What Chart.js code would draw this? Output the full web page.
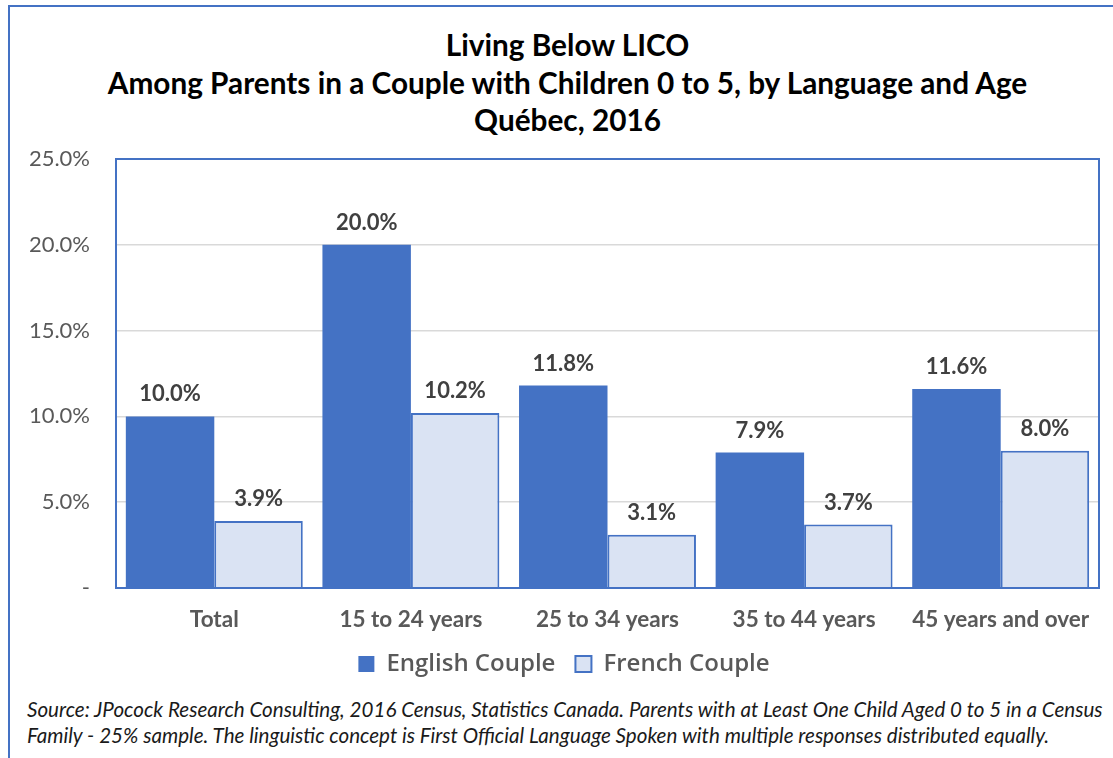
<!DOCTYPE html>
<html>
<head>
<meta charset="utf-8">
<script src="https://cdn.jsdelivr.net/npm/chart.js@4.4.0/dist/chart.umd.min.js"></script>
<style>
  body { margin: 0; background: #fff; overflow: hidden; }
  #frame { position: absolute; left: 8px; top: 5px; width: 1200px; height: 800px;
           border-left: 2px solid #4472C4; border-top: 2px solid #4472C4; }
  #title { position: absolute; left: 8px; top: 26px; width: 1119px; text-align: center;
           font-family: Lato, sans-serif; font-weight: bold; font-size: 29.75px; line-height: 37.5px; color: #000; }
  #wrap { position: absolute; left: 0; top: 0; width: 1113px; height: 686px; }
  #source { position: absolute; left: 27px; top: 696px; font-family: Lato, sans-serif;
            font-style: italic; font-size: 20.6px; line-height: 26px; color: #1a1a1a; white-space: nowrap; }
</style>
</head>
<body>
<div id="frame"></div>
<div id="title">Living Below LICO<br>Among Parents in a Couple with Children 0 to 5, by Language and Age<br>Québec, 2016</div>
<div id="wrap"><canvas id="licoChart"></canvas></div>
<div id="source">Source: JPocock Research Consulting, 2016 Census, Statistics Canada. Parents with at Least One Child Aged 0 to 5 in a Census<br>Family - 25% sample. The linguistic concept is First Official Language Spoken with multiple responses distributed equally.</div>
<script>
// Datos
const categorias = ['Total', '15 to 24 years', '25 to 34 years', '35 to 44 years', '45 years and over'];
const englishCouple = [10.0, 20.0, 11.8, 7.9, 11.6];
const frenchCouple = [3.9, 10.2, 3.1, 3.7, 8.0];
const yTicks = [0, 5, 10, 15, 20, 25];

// Borde del área de trazado
const plotBorder = {
    id: 'plotBorder',
    afterDatasetsDraw(chart) {
        const { ctx, chartArea: a } = chart;
        ctx.save();
        ctx.strokeStyle = '#4472C4';
        ctx.lineWidth = 2;
        ctx.strokeRect(a.left, a.top, a.right - a.left, a.bottom - a.top);
        ctx.restore();
    }
};

// Etiquetas de datos encima de cada barra
const dataLabels = {
    id: 'dataLabels',
    afterDatasetsDraw(chart) {
        const ctx = chart.ctx;
        ctx.save();
        ctx.font = 'bold 22px Lato, sans-serif';
        ctx.fillStyle = '#404040';
        ctx.textAlign = 'center';
        ctx.textBaseline = 'middle';
        chart.data.datasets.forEach((ds, i) => {
            chart.getDatasetMeta(i).data.forEach((bar, j) => {
                ctx.fillText(ds.data[j].toFixed(1) + '%', bar.x, bar.y - 22);
            });
        });
        ctx.restore();
    }
};

new Chart(document.getElementById('licoChart'), {
    type: 'bar',
    data: {
        labels: categorias,
        datasets: [{
            label: 'English Couple',
            data: englishCouple,
            backgroundColor: '#4472C4',
            borderColor: '#4472C4',
            borderWidth: 0
        }, {
            label: 'French Couple',
            data: frenchCouple,
            backgroundColor: '#DAE3F3',
            borderColor: '#4472C4',
            borderWidth: 2
        }]
    },
    options: {
        responsive: true,
        maintainAspectRatio: false,
        animation: false,
        categoryPercentage: 0.9,
        barPercentage: 1.0,
        layout: { padding: { left: 29, right: 14, top: 159, bottom: 0 } },
        plugins: {
            title: { display: false },
            legend: {
                position: 'bottom',
                labels: {
                    boxWidth: 16,
                    boxHeight: 16,
                    padding: 20,
                    color: '#595959',
                    font: { family: "'Open Sans', sans-serif", size: 24, weight: '600' }
                }
            },
            tooltip: { enabled: false }
        },
        scales: {
            y: {
                min: 0,
                max: 25,
                afterFit(scale) { scale.width = 87; },
                afterBuildTicks(scale) { scale.ticks = yTicks.map(v => ({ value: v })); },
                border: { display: false },
                grid: { color: '#D9D9D9', lineWidth: 1.5, drawTicks: false },
                ticks: {
                    padding: 26,
                    color: '#595959',
                    font: { family: 'Lato, sans-serif', size: 22 },
                    callback: v => v === 0 ? '-' : v.toFixed(1) + '%'
                }
            },
            x: {
                afterFit(scale) { scale.height = 44; },
                border: { display: false },
                grid: { display: false, drawTicks: false },
                ticks: {
                    padding: 18.5,
                    color: '#595959',
                    font: { family: 'Lato, sans-serif', size: 22.5, weight: 'bold' }
                }
            }
        }
    },
    plugins: [plotBorder, dataLabels]
});
</script>
</body>
</html>
